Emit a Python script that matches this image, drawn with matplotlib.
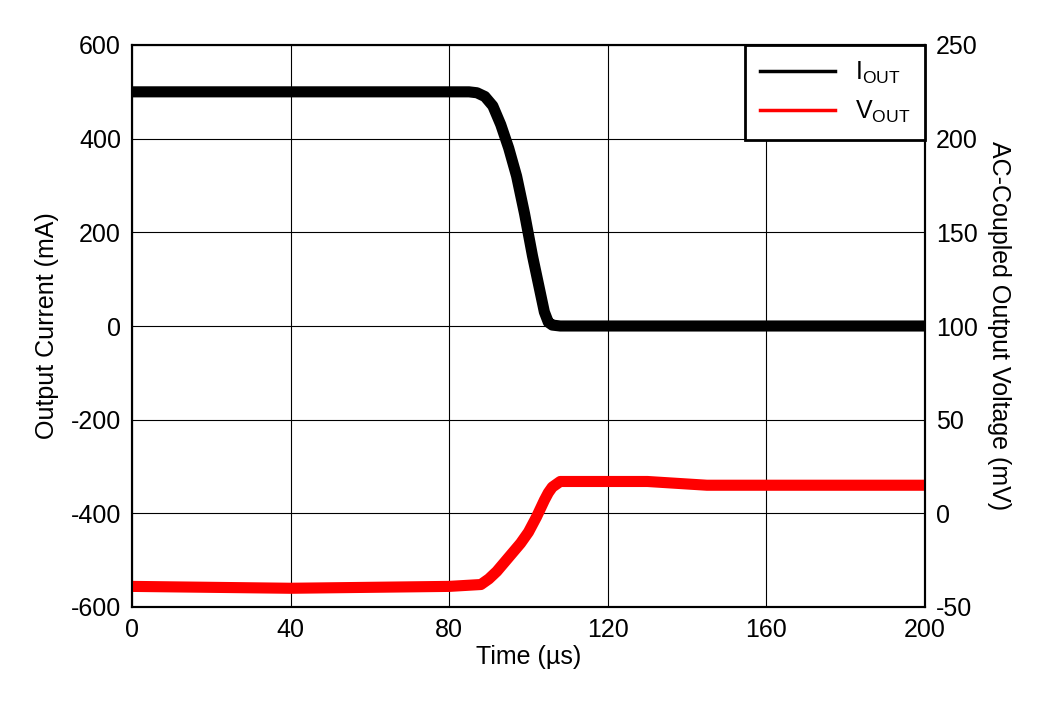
import matplotlib
matplotlib.use("Agg")
import matplotlib.pyplot as plt

plt.rcParams['font.family'] = ['Liberation Sans', 'DejaVu Sans']
plt.rcParams['axes.unicode_minus'] = False

i_t = [0, 60, 85, 87, 89, 91, 93, 95, 97, 99, 101, 103, 104, 105, 106, 108, 150, 200]
i_v = [500, 500, 500, 498, 490, 470, 430, 380, 320, 240, 150, 70, 30, 8, 2, 0, 0, 0]
v_t = [0, 40, 80, 88, 90, 92, 94, 96, 98, 100, 102, 104, 105, 106, 108, 130, 145, 200]
v_v = [-39, -40, -39, -38, -35, -31, -26, -21, -16, -10, -2, 7, 11, 14, 17, 17, 15, 15]

fig = plt.figure(figsize=(10.46, 7.01), dpi=100)
ax = fig.add_axes([132/1046, 1-607/701, (925-132)/1046, (607-45)/701])
ax2 = ax.twinx()
l1, = ax.plot(i_t, i_v, color='black', lw=8, solid_joinstyle='round')
l2, = ax2.plot(v_t, v_v, color='red', lw=8, solid_joinstyle='round')
ax.set_xlim(0, 200); ax.set_ylim(-600, 600)
ax2.set_ylim(-50, 250)
ax.set_xticks(range(0, 201, 40))
ax.set_yticks(range(-600, 601, 200))
ax2.set_yticks(range(-50, 251, 50))
ax.grid(True, color='black', lw=0.8)
ax.set_axisbelow(True)
for a in (ax, ax2):
    a.tick_params(labelsize=18, length=0, pad=8)
    for s in a.spines.values():
        s.set_linewidth(1.5)
ax.set_xlabel('Time (µs)', fontsize=18, labelpad=2)
ax.set_ylabel('Output Current (mA)', fontsize=18, labelpad=8)
ax2.set_ylabel('AC-Coupled Output Voltage (mV)', fontsize=18, rotation=270, labelpad=24)
leg = ax2.legend([l1, l2], ['I$_\\mathregular{OUT}$', 'V$_\\mathregular{OUT}$'], loc='upper right',
                 fontsize=18, fancybox=False, framealpha=1, edgecolor='black',
                 borderaxespad=0, handlelength=3.0, borderpad=0.6)
leg.get_frame().set_linewidth(2)
for h in leg.get_lines():
    h.set_linewidth(2.5)
fig.savefig('out.png', dpi=100)
